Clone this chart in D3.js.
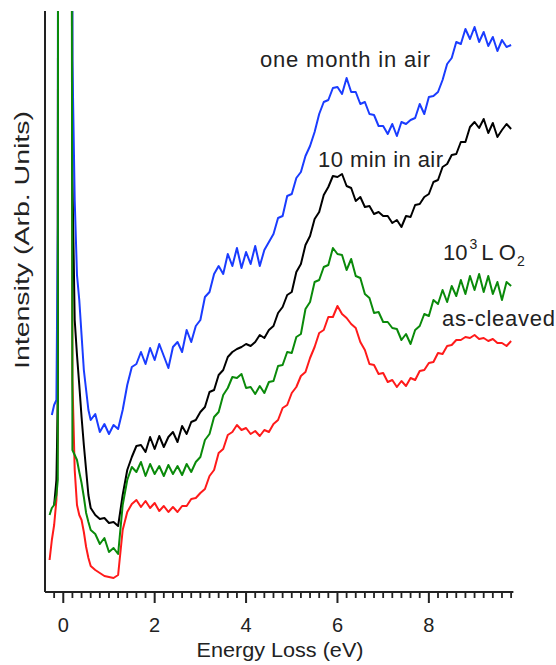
<!DOCTYPE html>
<html>
<head>
<meta charset="utf-8">
<script src="https://cdn.jsdelivr.net/npm/d3@7"></script>
<style>
  html, body { margin: 0; padding: 0; background: #fff; }
  svg { display: block; }
  text { font-family: "Liberation Sans", Arial, sans-serif; fill: #222; }
</style>
</head>
<body>
<svg id="chart" width="556" height="665"></svg>
<script>
// Energy-loss grid (eV): fine near the zero-loss peak, 0.1 eV beyond
const energy = [
  -0.3, -0.25, -0.2, -0.15, -0.12, -0.1, -0.05, 0, 0.05, 0.1, 0.15, 0.2, 0.25, 0.3, 0.35, 0.4, 0.45, 0.5, 0.55, 0.6,
  0.7, 0.8, 0.9, 1.0, 1.1, 1.2, 1.3, 1.4, 1.5, 1.6, 1.7, 1.8, 1.9, 2.0, 2.1, 2.2, 2.3, 2.4, 2.5, 2.6, 2.7, 2.8, 2.9,
  3.0, 3.1, 3.2, 3.3, 3.4, 3.5, 3.6, 3.7, 3.8, 3.9, 4.0, 4.1, 4.2, 4.3, 4.4, 4.5, 4.6, 4.7, 4.8, 4.9,
  5.0, 5.1, 5.2, 5.3, 5.4, 5.5, 5.6, 5.7, 5.8, 5.9, 6.0, 6.1, 6.2, 6.3, 6.4, 6.5, 6.6, 6.7, 6.8, 6.9,
  7.0, 7.1, 7.2, 7.3, 7.4, 7.5, 7.6, 7.7, 7.8, 7.9, 8.0, 8.1, 8.2, 8.3, 8.4, 8.5, 8.6, 8.7, 8.8, 8.9,
  9.0, 9.1, 9.2, 9.3, 9.4, 9.5, 9.6, 9.7, 9.8
];

// Offset spectra (arbitrary units); the zero-loss peak runs far off scale
const asCleaved = [
  32, 52, 67, 92, 152, 2000, 2000, 2000, 2000, 2000, 2000, 212, 122, 87, 77, 72, 60, 45, 34, 26,
  22, 19, 16, 15, 14, 17, 62, 80, 88, 92, 85, 91, 84, 89, 81, 86, 80, 85, 80, 86, 86, 93, 94,
  99, 103, 116, 122, 139, 143, 157, 160, 167, 162, 164, 158, 161, 156, 162, 160, 168, 172, 184, 187,
  199, 205, 216, 220, 234, 245, 259, 262, 275, 275, 286, 278, 274, 268, 264, 250, 242, 228, 227, 218,
  219, 210, 212, 205, 211, 206, 214, 212, 221, 222, 229, 230, 239, 238, 246, 247, 252, 252, 255, 254,
  257, 253, 254, 251, 253, 249, 249, 246, 251
];

const oxygen1000L = [
  77, 84, 87, 97, 112, 2000, 2000, 2000, 2000, 2000, 2000, 142, 137, 132, 120, 109, 95, 79, 70, 62,
  58, 48, 54, 40, 44, 38, 87, 112, 125, 120, 130, 116, 128, 118, 126, 116, 127, 118, 126, 117, 128, 120, 130,
  135, 152, 158, 175, 180, 197, 204, 215, 214, 218, 204, 205, 198, 206, 199, 210, 211, 226, 227, 240,
  239, 255, 258, 283, 290, 310, 312, 325, 327, 344, 338, 337, 322, 333, 316, 314, 298, 294, 279, 280,
  270, 270, 264, 263, 252, 258, 248, 262, 266, 278, 276, 292, 288, 302, 290, 306, 296, 312, 298, 316,
  302, 318, 300, 316, 298, 310, 292, 310, 306
];

const tenMinAir = [
  null, null, 87, 112, 192, 2000, 2000, 2000, 2000, 2000, 2000, 412, 272, 237, 207, 175, 147, 122, 97, 84,
  77, 73, 74, 69, 70, 66, 97, 122, 135, 146, 147, 140, 155, 143, 156, 145, 155, 160, 150, 166, 158, 170, 172,
  180, 185, 200, 202, 217, 222, 235, 240, 243, 245, 248, 246, 250, 257, 254, 262, 266, 279, 285, 297,
  300, 320, 328, 347, 356, 373, 380, 397, 405, 416, 415, 418, 406, 404, 391, 395, 385, 386, 378, 380,
  376, 376, 369, 372, 365, 376, 375, 387, 388, 395, 398, 410, 412, 425, 428, 437, 438, 450, 450, 465,
  470, 464, 473, 459, 469, 455, 462, 468, 463
];

const oneMonthAir = [
  null, 177, 187, 192, 367, 2000, 2000, 2000, 2000, 2000, 2000, 532, 392, 317, 292, 257, 222, 202, 182, 172,
  178, 160, 168, 158, 167, 163, 182, 207, 225, 228, 240, 228, 244, 232, 248, 236, 224, 245, 250, 240, 262, 250, 266,
  272, 295, 300, 318, 326, 318, 338, 326, 344, 324, 340, 328, 346, 326, 342, 350, 358, 374, 376, 396,
  398, 414, 420, 436, 446, 460, 478, 490, 492, 504, 505, 498, 514, 500, 500, 488, 490, 478, 477, 466,
  466, 458, 468, 456, 470, 468, 472, 474, 488, 478, 495, 496, 500, 512, 528, 534, 550, 548, 563, 553,
  565, 550, 560, 546, 555, 541, 552, 545, 547
];

const xTicks = [0, 2, 4, 6, 8];
const xMinorStep = 0.2;

const seriesList = [
  { name: "as-cleaved", values: asCleaved, color: "#ff1a1a" },
  { name: "10 min in air", values: tenMinAir, color: "#000000" },
  { name: "one month in air", values: oneMonthAir, color: "#1a3cff" },
  { name: "10^3 L O2", values: oxygen1000L, color: "#0a8a0a" }
];

const svg = d3.select("#chart");
const plotLeft = 45, plotRight = 513.4, plotTop = 11, plotBottom = 592;
const ink = "#222";

const x = d3.scaleLinear().domain([-0.4, 9.85]).range([plotLeft, plotRight]);
const y = d3.scaleLinear().domain([0, 581]).range([plotBottom, plotTop]);

svg.append("clipPath").attr("id", "plotClip")
  .append("rect").attr("x", plotLeft).attr("y", plotTop)
  .attr("width", plotRight - plotLeft + 10).attr("height", plotBottom - plotTop);

const line = d3.line()
  .defined(d => d[1] !== null)
  .x(d => x(d[0]))
  .y(d => y(d[1]))
  .curve(d3.curveLinear);

const plot = svg.append("g").attr("clip-path", "url(#plotClip)");
seriesList.forEach(s => {
  const pts = energy.map((e, i) => [e, s.values[i]]);
  plot.append("path")
    .datum(pts)
    .attr("fill", "none")
    .attr("stroke", s.color)
    .attr("stroke-width", 2)
    .attr("stroke-linejoin", "round")
    .attr("d", line);
});

// Bottom axis: one path for the minor comb, one for the major ticks
const minorTicks = d3.range(-1, 50).map(i => +(i * xMinorStep).toFixed(1)).filter(v => v % 2 !== 0);
svg.append("path")
  .attr("d", minorTicks.map(v => `M${x(v)},${plotBottom}V${plotBottom + 6}`).join(""))
  .attr("fill", "none").attr("stroke", ink).attr("stroke-width", 1.8);
svg.append("path")
  .attr("d", xTicks.map(v => `M${x(v)},${plotBottom}V${plotBottom + 11}`).join(""))
  .attr("fill", "none").attr("stroke", ink).attr("stroke-width", 2);
svg.selectAll("text.ticklabel").data(xTicks).join("text")
  .attr("class", "ticklabel")
  .attr("x", d => x(d)).attr("y", 632)
  .attr("text-anchor", "middle").attr("font-size", 20)
  .text(d => d3.format("d")(d));

// Axis lines
svg.append("line").attr("x1", plotLeft).attr("x2", plotRight).attr("y1", plotBottom).attr("y2", plotBottom)
  .attr("stroke", ink).attr("stroke-width", 2);
svg.append("line").attr("x1", plotLeft).attr("x2", plotLeft).attr("y1", plotTop).attr("y2", plotBottom)
  .attr("stroke", ink).attr("stroke-width", 2);

// Axis titles
svg.append("text").attr("x", 280).attr("y", 657).attr("text-anchor", "middle")
  .attr("font-size", 20).attr("textLength", 167).attr("lengthAdjust", "spacingAndGlyphs")
  .text("Energy Loss (eV)");
svg.append("text").attr("transform", "translate(29,240) rotate(-90)").attr("text-anchor", "middle")
  .attr("font-size", 20).attr("textLength", 258).attr("lengthAdjust", "spacingAndGlyphs")
  .text("Intensity (Arb. Units)");

// Curve labels
svg.append("text").attr("x", 260).attr("y", 67).attr("font-size", 22)
  .attr("textLength", 170).attr("lengthAdjust", "spacing").text("one month in air");
svg.append("text").attr("x", 318).attr("y", 167).attr("font-size", 22)
  .attr("textLength", 125).attr("lengthAdjust", "spacing").text("10 min in air");
const o2 = svg.append("text").attr("x", 443).attr("y", 260).attr("font-size", 22);
o2.append("tspan").text("10");
o2.append("tspan").attr("dy", -11).attr("dx", 2).attr("font-size", 14).text("3");
o2.append("tspan").attr("dy", 11).attr("dx", 4).text("L O");
o2.append("tspan").attr("dy", 6).attr("dx", 1).attr("font-size", 14).text("2");
svg.append("text").attr("x", 442).attr("y", 326).attr("font-size", 22)
  .attr("textLength", 113).attr("lengthAdjust", "spacing").text("as-cleaved");
</script>
</body>
</html>
